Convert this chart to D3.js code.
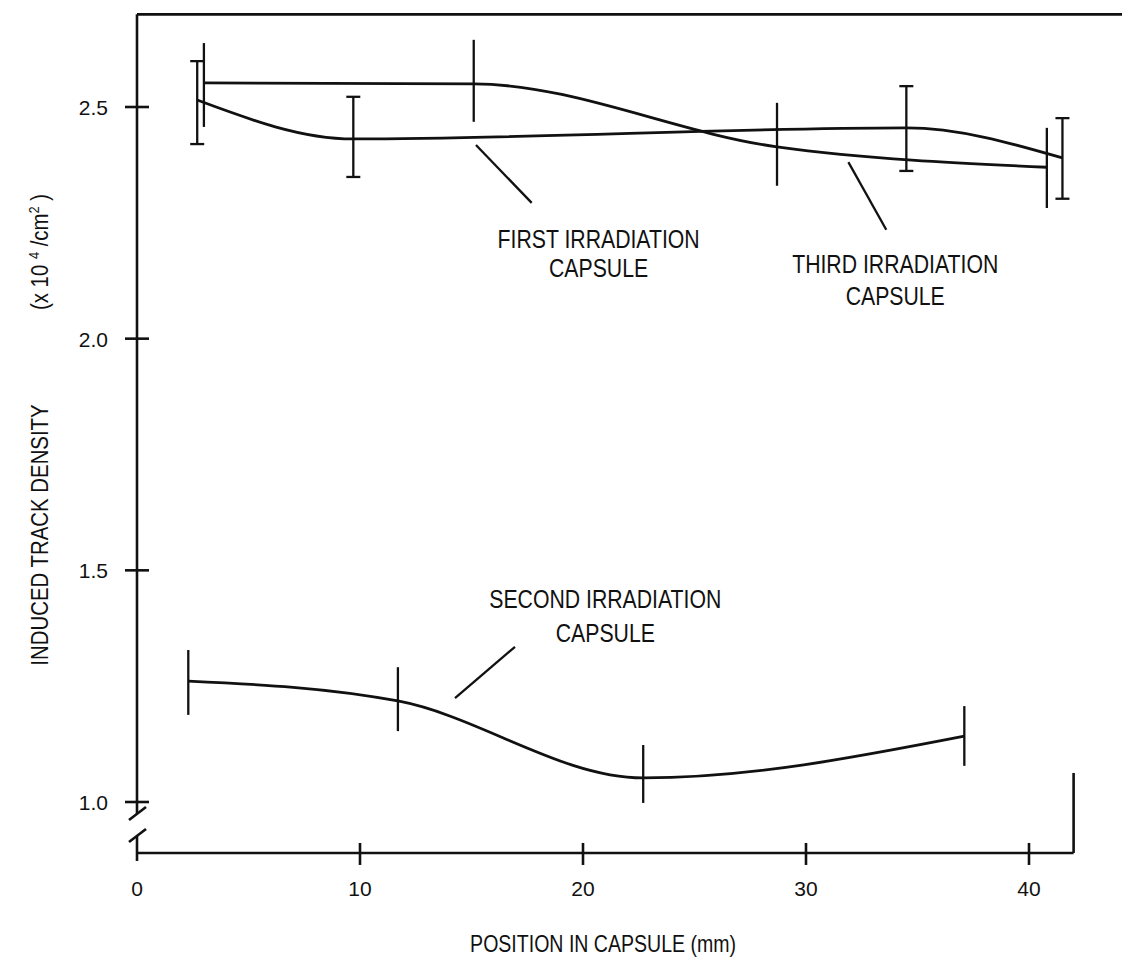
<!DOCTYPE html>
<html>
<head>
<meta charset="utf-8">
<script src="https://cdn.jsdelivr.net/npm/d3@7"></script>
<style>
  body { margin: 0; background: #fff; }
  svg { display: block; }
  text { font-family: 'Liberation Sans', Arial, sans-serif; fill: #111; }
</style>
</head>
<body>
<svg id="chart" width="1122" height="962"></svg>
<script>
// values (position in mm, density in 1e4 / cm2)
const firstPos = [2.7, 9.7, 34.5, 41.5];
const firstVal = [2.515, 2.431, 2.455, 2.390];
const firstLo = [2.420, 2.349, 2.362, 2.302];
const firstHi = [2.599, 2.522, 2.545, 2.476];

const secondPos = [2.3, 11.7, 22.7, 37.1];
const secondVal = [1.261, 1.218, 1.052, 1.142];
const secondLo = [1.188, 1.153, 0.998, 1.078];
const secondHi = [1.328, 1.291, 1.123, 1.207];

const thirdPos = [3.0, 15.1, 28.7, 40.8];
const thirdVal = [2.552, 2.550, 2.414, 2.370];
const thirdLo = [2.457, 2.468, 2.330, 2.282];
const thirdHi = [2.638, 2.645, 2.509, 2.455];

const xTicks = [0, 10, 20, 30, 40];
const yTicks = [1.0, 1.5, 2.0, 2.5];

const svg = d3.select('#chart');

const x = d3.scaleLinear().domain([0, 40]).range([137, 1029]);
const y = d3.scaleLinear().domain([1.0, 2.5]).range([802, 107]);

const yBottom = 0.89;
const yTop = 2.70;
const xRight = 42;

const narrow = 0.85;

const toSeries = (pos, val, lo, hi) => pos.map((p, i) => ({x: p, v: val[i], lo: lo[i], hi: hi[i]}));

const series = [
    {name: 'first', caps: true, values: toSeries(firstPos, firstVal, firstLo, firstHi)},
    {name: 'second', caps: false, values: toSeries(secondPos, secondVal, secondLo, secondHi)},
    {name: 'third', caps: false, values: toSeries(thirdPos, thirdVal, thirdLo, thirdHi)},
];

const frame = svg.append('g').attr('class', 'frame')
    .attr('stroke', '#111')
    .attr('stroke-width', 2.6)
    .attr('fill', 'none');

// top border runs off the right edge like the scan
frame.append('line')
    .attr('x1', x(0)).attr('x2', 1122)
    .attr('y1', y(yTop)).attr('y2', y(yTop));

// left axis, with a gap for the break
const breakTop = 814;
const breakBottom = 836;
frame.append('line')
    .attr('x1', x(0)).attr('x2', x(0))
    .attr('y1', y(yTop)).attr('y2', breakTop);
frame.append('line')
    .attr('x1', x(0)).attr('x2', x(0))
    .attr('y1', breakBottom).attr('y2', y(yBottom) + 8);

frame.selectAll('.break')
    .data([breakTop, breakBottom])
    .enter().append('line')
    .attr('class', 'break')
    .attr('x1', x(0) - 8).attr('x2', x(0) + 9)
    .attr('y1', d => d + 6).attr('y2', d => d - 7);

// bottom axis
frame.append('line')
    .attr('x1', x(0)).attr('x2', x(xRight))
    .attr('y1', y(yBottom)).attr('y2', y(yBottom));
frame.append('line')
    .attr('x1', x(xRight)).attr('x2', x(xRight))
    .attr('y1', y(yBottom)).attr('y2', y(yBottom) - 80);

// ticks crossing the axes
frame.selectAll('.ytick')
    .data(yTicks)
    .enter().append('line')
    .attr('class', 'ytick')
    .attr('x1', x(0) - 12).attr('x2', x(0) + 12)
    .attr('y1', d => y(d)).attr('y2', d => y(d));

frame.selectAll('.xtick')
    .data(xTicks.filter(d => d > 0))
    .enter().append('line')
    .attr('class', 'xtick')
    .attr('x1', d => x(d)).attr('x2', d => x(d))
    .attr('y1', y(yBottom) - 10).attr('y2', y(yBottom) + 12);

const labels = svg.append('g').attr('class', 'labels');

labels.selectAll('.ylabel')
    .data(yTicks)
    .enter().append('text')
    .attr('class', 'ylabel')
    .attr('font-size', 21)
    .attr('text-anchor', 'end')
    .attr('x', x(0) - 29)
    .attr('y', d => y(d) + 8)
    .text(d3.format('.1f'));

labels.selectAll('.xlabel')
    .data(xTicks)
    .enter().append('text')
    .attr('class', 'xlabel')
    .attr('font-size', 21)
    .attr('text-anchor', 'middle')
    .attr('x', d => x(d))
    .attr('y', 896)
    .text(d => d);

labels.append('text')
    .attr('text-anchor', 'middle')
    .attr('font-size', 23)
    .attr('transform', `translate(${x(20.9)}, 952) scale(${narrow}, 1)`)
    .text('POSITION IN CAPSULE (mm)');

labels.append('text')
    .attr('text-anchor', 'middle')
    .attr('font-size', 24)
    .attr('transform', `translate(48, 535) rotate(-90) scale(${narrow}, 1)`)
    .text('INDUCED TRACK DENSITY');

const unit = labels.append('text')
    .attr('text-anchor', 'middle')
    .attr('font-size', 24)
    .attr('transform', `translate(48, 252) rotate(-90) scale(${narrow}, 1)`);
unit.append('tspan').text('(x 10 ');
unit.append('tspan').attr('dy', -9).attr('font-size', 15).text('4');
unit.append('tspan').attr('dy', 9).text(' /cm');
unit.append('tspan').attr('dy', -9).attr('font-size', 15).text('2');
unit.append('tspan').attr('dy', 9).text(' )');

// curves
const line = d3.line()
    .x(d => x(d.x))
    .y(d => y(d.v))
    .curve(d3.curveMonotoneX);

const plot = svg.append('g').attr('class', 'plot');

const seriesG = plot.selectAll('.series')
    .data(series)
    .enter().append('g')
    .attr('class', d => `series series--${d.name}`);

seriesG.append('path')
    .attr('d', d => line(d.values))
    .attr('fill', 'none')
    .attr('stroke', '#111')
    .attr('stroke-width', 2.8);

const bars = seriesG.selectAll('.bar')
    .data(d => d.values.map(v => Object.assign({caps: d.caps}, v)))
    .enter().append('g')
    .attr('class', 'bar')
    .attr('stroke', '#111')
    .attr('stroke-width', 2.3);

bars.append('line')
    .attr('x1', d => x(d.x)).attr('x2', d => x(d.x))
    .attr('y1', d => y(d.lo)).attr('y2', d => y(d.hi));

bars.filter(d => d.caps).selectAll('.cap')
    .data(d => [{x: d.x, v: d.lo}, {x: d.x, v: d.hi}])
    .enter().append('line')
    .attr('class', 'cap')
    .attr('x1', d => x(d.x) - 7).attr('x2', d => x(d.x) + 7)
    .attr('y1', d => y(d.v)).attr('y2', d => y(d.v));

// annotations: leader line from curve to the label
const annotationData = [
    {lines: ['FIRST IRRADIATION', 'CAPSULE'], cx: 20.7, base: 2.196, step: 29, leader: [[15.2, 2.418], [17.7, 2.293]]},
    {lines: ['THIRD IRRADIATION', 'CAPSULE'], cx: 34.0, base: 2.142, step: 32, leader: [[31.9, 2.381], [33.6, 2.235]]},
    {lines: ['SECOND IRRADIATION', 'CAPSULE'], cx: 21.0, base: 1.419, step: 34, leader: [[14.26, 1.224], [16.95, 1.335]]},
];

const annotation = svg.append('g').attr('class', 'annotations')
    .selectAll('.annotation')
    .data(annotationData)
    .enter().append('g')
    .attr('class', 'annotation');

annotation.append('line')
    .attr('x1', d => x(d.leader[0][0])).attr('y1', d => y(d.leader[0][1]))
    .attr('x2', d => x(d.leader[1][0])).attr('y2', d => y(d.leader[1][1]))
    .attr('stroke', '#111')
    .attr('stroke-width', 2.3);

annotation.selectAll('text')
    .data(d => d.lines.map((t, i) => ({t, cx: d.cx, yy: y(d.base) + i * d.step})))
    .enter().append('text')
    .attr('text-anchor', 'middle')
    .attr('font-size', 25)
    .attr('transform', d => `translate(${x(d.cx)}, ${d.yy}) scale(${narrow}, 1)`)
    .text(d => d.t);
</script>
</body>
</html>
